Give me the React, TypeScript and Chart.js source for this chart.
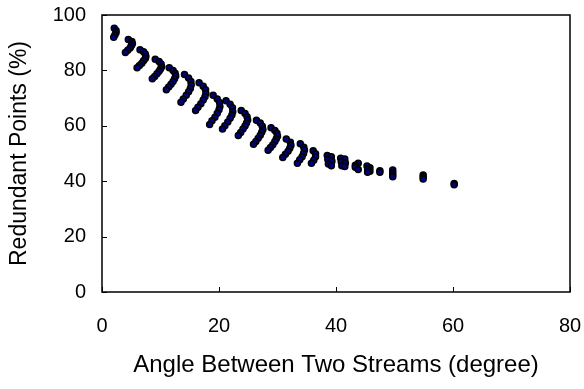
import React, { useEffect, useRef } from "react";
import { Chart, registerables } from "chart.js";

Chart.register(...registerables);

// Angle between two streams (degree) for each plotted point
const angleDeg: number[] = [
  2.1, 2.4, 2.4, 2.2, 2.0,
  4.5, 5.1, 5.2, 5.0, 4.8, 4.4, 4.0,
  6.5, 7.1, 7.4, 7.5, 7.4, 7.1, 6.8, 6.4, 6.0,
  9.1, 9.75, 10.1, 10.2, 10.0, 9.75, 9.4, 9.0, 8.6,
  11.5, 12.15, 12.5, 12.6, 12.4, 12.15, 11.8, 11.4, 11.0,
  14.1, 14.8, 15.2, 15.25, 15.1, 14.8, 14.4, 13.9, 13.5,
  16.6, 17.3, 17.7, 17.75, 17.6, 17.3, 16.9, 16.4, 16.0,
  19.0, 19.7, 20.1, 20.15, 20.0, 19.7, 19.3, 18.8, 18.4,
  21.2, 21.9, 22.3, 22.35, 22.2, 21.9, 21.5, 21.0, 20.6,
  23.8, 24.45, 24.8, 24.9, 24.7, 24.45, 24.1, 23.7, 23.3,
  26.4, 27.05, 27.4, 27.5, 27.3, 27.05, 26.7, 26.3, 25.9,
  28.9, 29.55, 29.9, 30.0, 29.8, 29.55, 29.2, 28.8, 28.4,
  31.5, 32.2, 32.3, 32.1, 31.8, 31.35, 30.9,
  33.9, 34.5, 34.6, 34.45, 34.2, 33.8, 33.4,
  36.1, 36.5, 36.5, 36.2, 35.8,
  38.5, 39.2, 38.6, 39.3, 38.7, 39.2,
  40.8, 41.5, 40.9, 41.6, 41.0, 41.5,
  43.8, 43.3, 43.3, 43.8,
  45.3, 45.8, 45.4, 45.8, 45.4,
  47.5, 47.5,
  49.7, 49.7, 49.7, 49.7,
  54.9, 54.9, 54.9,
  60.2, 60.2,
];

// Redundant points (%) for each plotted point
const redundantPct: number[] = [
  95.2, 94.4, 93.6, 92.8, 92.0,
  91.2, 90.4, 89.6, 88.9, 88.1, 87.3, 86.5,
  87.5, 86.7, 85.9, 85.0, 84.3, 83.5, 82.6, 81.8, 81.0,
  84.0, 83.2, 82.3, 81.3, 80.5, 79.7, 78.8, 77.8, 77.0,
  81.0, 80.0, 79.0, 78.0, 77.0, 76.0, 75.0, 74.0, 73.0,
  78.5, 77.3, 76.0, 74.7, 73.5, 72.3, 71.0, 69.7, 68.5,
  75.5, 74.3, 73.0, 71.7, 70.5, 69.3, 68.0, 66.7, 65.5,
  71.0, 69.7, 68.4, 67.0, 65.8, 64.5, 63.1, 61.8, 60.5,
  69.0, 67.8, 66.5, 65.1, 63.9, 62.7, 61.4, 60.0, 58.8,
  65.5, 64.4, 63.3, 62.1, 61.0, 59.9, 58.8, 57.6, 56.5,
  62.0, 61.0, 59.8, 58.7, 57.7, 56.6, 55.5, 54.3, 53.3,
  59.3, 58.3, 57.3, 56.2, 55.3, 54.3, 53.2, 52.2, 51.2,
  55.2, 54.1, 53.0, 51.9, 50.8, 49.7, 48.6,
  53.5, 52.3, 51.2, 50.0, 48.8, 47.7, 46.5,
  51.0, 49.9, 48.8, 47.6, 46.5,
  49.3, 48.8, 47.8, 47.2, 46.2, 45.6,
  48.3, 48.0, 47.0, 46.6, 45.6, 45.3,
  46.5, 45.8, 45.0, 44.2,
  45.5, 44.9, 44.2, 43.6, 43.2,
  43.8, 43.2,
  44.0, 43.1, 42.3, 41.6,
  42.2, 41.5, 40.8,
  39.2, 38.7,
];

const xTicks: number[] = [0, 20, 40, 60, 80];
const yTicks: number[] = [0, 20, 40, 60, 80, 100];

const xTitle = "Angle Between Two Streams (degree)";
const yTitle = "Redundant Points (%)";

const FONT = "'Liberation Sans', Arial, sans-serif";

const frameAndTicks = {
  id: "frameAndTicks",
  afterDraw(chart: any) {
    const { ctx, chartArea } = chart;
    const xs = chart.scales.x;
    const ys = chart.scales.y;
    ctx.save();
    ctx.strokeStyle = "#000";
    ctx.lineWidth = 1.5;
    ctx.strokeRect(chartArea.left, chartArea.top, chartArea.right - chartArea.left, chartArea.bottom - chartArea.top);
    ctx.lineWidth = 1;
    const len = 5;
    ctx.beginPath();
    xTicks.forEach((v) => {
      const px = Math.round(xs.getPixelForValue(v)) + 0.5;
      ctx.moveTo(px, chartArea.bottom);
      ctx.lineTo(px, chartArea.bottom - len);
    });
    yTicks.forEach((v) => {
      const py = Math.round(ys.getPixelForValue(v)) + 0.5;
      ctx.moveTo(chartArea.left, py);
      ctx.lineTo(chartArea.left + len, py);
    });
    ctx.stroke();
    ctx.restore();
  },
};

export default function App() {
  const ref = useRef<HTMLCanvasElement | null>(null);

  useEffect(() => {
    document.body.style.margin = "0";
    const canvas = ref.current;
    if (!canvas) return;
    const points = angleDeg.map((a, i) => ({ x: a, y: redundantPct[i] }));
    const chart = new Chart(canvas, {
      type: "scatter",
      data: {
        datasets: [
          {
            data: points,
            backgroundColor: "#000080",
            borderColor: "#000000",
            borderWidth: 1.5,
            pointRadius: 3,
            pointHoverRadius: 3,
          },
        ],
      },
      options: {
        responsive: false,
        animation: false,
        events: [],
        layout: { padding: { top: 15, right: 14, left: 0, bottom: 0 } },
        plugins: { legend: { display: false }, tooltip: { enabled: false } },
        scales: {
          x: {
            type: "linear",
            min: 0,
            max: 80,
            afterFit: (s: any) => {
              s.height = 97;
              s.paddingLeft = 0;
              s.paddingRight = 0;
            },
            afterBuildTicks: (s: any) => {
              s.ticks = xTicks.map((v) => ({ value: v }));
            },
            grid: { display: false, drawTicks: false },
            border: { display: false },
            ticks: {
              color: "#000",
              padding: 22,
              maxRotation: 0,
              font: { family: FONT, size: 20 },
            },
            title: {
              display: true,
              text: xTitle,
              color: "#000",
              font: { family: FONT, size: 24 },
              padding: { top: 0, bottom: 9 },
            },
          },
          y: {
            type: "linear",
            min: 0,
            max: 100,
            afterFit: (s: any) => {
              s.width = 102;
              s.paddingTop = 0;
              s.paddingBottom = 0;
            },
            afterBuildTicks: (s: any) => {
              s.ticks = yTicks.map((v) => ({ value: v }));
            },
            grid: { display: false, drawTicks: false },
            border: { display: false },
            ticks: {
              color: "#000",
              padding: 16,
              font: { family: FONT, size: 20 },
            },
            title: {
              display: true,
              text: yTitle,
              color: "#000",
              font: { family: FONT, size: 23 },
              padding: { top: 6, bottom: 0 },
            },
          },
        },
      },
      plugins: [frameAndTicks],
    });
    return () => chart.destroy();
  }, []);

  return (
    <div style={{ width: 584, height: 389 }}>
      <canvas ref={ref} width={584} height={389} style={{ display: "block", width: 584, height: 389 }} />
    </div>
  );
}
